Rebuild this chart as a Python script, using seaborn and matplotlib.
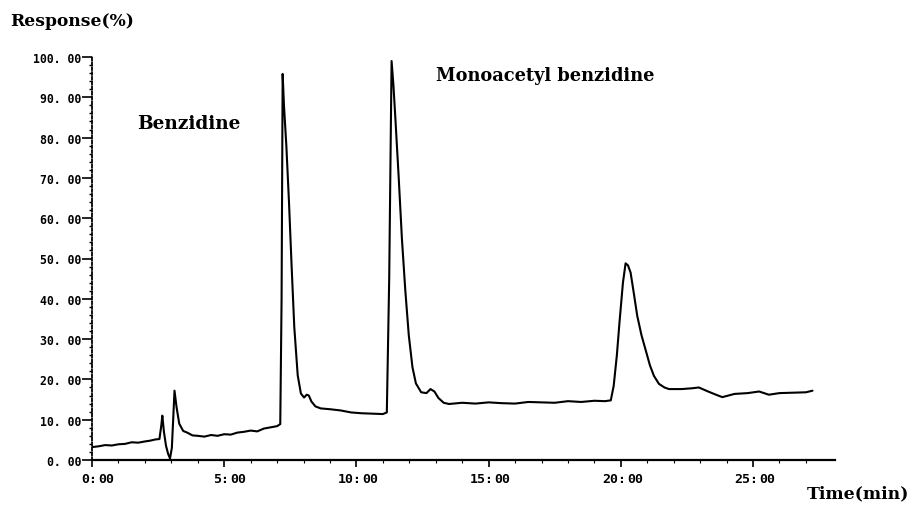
import matplotlib
matplotlib.use("Agg")
import matplotlib.pyplot as plt
import seaborn as sns
import pandas as pd
from matplotlib.transforms import offset_copy

# ---- data ----
time_min = [0.00, 0.25, 0.50, 0.75, 1.00, 1.25, 1.50, 1.75, 2.00, 2.20, 2.40, 2.55,
            2.62, 2.66, 2.72, 2.80, 2.88, 2.95, 3.02, 3.07, 3.12, 3.20, 3.30, 3.45,
            3.60, 3.80, 4.00, 4.25, 4.50, 4.75, 5.00, 5.25, 5.50, 5.75, 6.00, 6.25,
            6.50, 6.75, 7.00, 7.12, 7.17, 7.21, 7.26, 7.35, 7.45, 7.55, 7.65, 7.78,
            7.90, 8.02, 8.12, 8.20, 8.30, 8.45, 8.65, 9.00, 9.40, 9.80, 10.20, 10.60,
            11.00, 11.15, 11.24, 11.33, 11.40, 11.48, 11.60, 11.72, 11.85, 11.98, 12.12,
            12.25, 12.45, 12.65, 12.80, 12.95, 13.10, 13.30, 13.50, 14.00, 14.50, 15.00,
            15.50, 16.00, 16.50, 17.00, 17.50, 18.00, 18.50, 19.00, 19.40, 19.62, 19.73,
            19.85, 19.95, 20.08, 20.18, 20.27, 20.37, 20.50, 20.62, 20.78, 20.93, 21.10,
            21.25, 21.44, 21.65, 21.82, 22.30, 22.70, 22.95, 23.30, 23.60, 23.84, 24.30,
            24.80, 25.23, 25.60, 26.00, 26.50, 27.00, 27.25]
response_pct = [3.2, 3.4, 3.7, 3.6, 3.9, 4.0, 4.4, 4.3, 4.6, 4.8, 5.1, 5.2,
                8.5, 11.0, 7.0, 3.5, 1.5, 0.4, 3.0, 10.0, 17.2, 13.0, 9.0, 7.2,
                6.8, 6.1, 6.0, 5.8, 6.2, 6.0, 6.4, 6.3, 6.8, 7.0, 7.3, 7.1,
                7.8, 8.1, 8.4, 8.9, 40.0, 95.8, 88.0, 78.0, 64.0, 48.0, 33.0, 21.0,
                16.5, 15.5, 16.2, 16.0, 14.5, 13.3, 12.8, 12.6, 12.3, 11.8, 11.6, 11.5,
                11.4, 11.8, 45.0, 99.0, 93.0, 84.0, 70.0, 55.0, 42.0, 31.0, 23.0,
                19.0, 16.8, 16.6, 17.6, 17.0, 15.4, 14.2, 13.9, 14.2, 14.0, 14.3,
                14.1, 14.0, 14.4, 14.3, 14.2, 14.6, 14.4, 14.7, 14.6, 14.8, 18.4,
                26.0, 34.2, 44.0, 48.8, 48.3, 46.5, 41.0, 35.8, 31.0, 27.5, 23.5,
                20.9, 18.9, 18.0, 17.6, 17.6, 17.8, 18.0, 17.0, 16.2, 15.6, 16.4,
                16.6, 17.0, 16.2, 16.6, 16.7, 16.8, 17.2]

y_ticks = [0, 10, 20, 30, 40, 50, 60, 70, 80, 90, 100]
y_tick_labels = ["0. 00", "10. 00", "20. 00", "30. 00", "40. 00", "50. 00",
                 "60. 00", "70. 00", "80. 00", "90. 00", "100. 00"]
x_ticks = [0, 5, 10, 15, 20, 25]
x_tick_minutes = ["0", "5", "10", "15", "20", "25"]
peak_names = ["Benzidine", "Monoacetyl benzidine"]

df = pd.DataFrame({"time": time_min, "response": response_pct})

sns.set_style("white")
plt.rcParams["font.family"] = ["DejaVu Serif"]
plt.rcParams["text.color"] = "black"
plt.rcParams["xtick.color"] = "black"
plt.rcParams["ytick.color"] = "black"
plt.rcParams["axes.labelcolor"] = "black"

fig = plt.figure(figsize=(9.14, 5.06), dpi=100)
ax = fig.add_axes([92 / 914, 45 / 506, 743 / 914, 403 / 506])

sns.lineplot(data=df, x="time", y="response", color="black", linewidth=1.5,
             ax=ax, estimator=None, sort=False)

ax.set_xlim(0, 28.1)
ax.set_ylim(0, 100)
ax.set_xlabel("")
ax.set_ylabel("")

for s in ["top", "right"]:
    ax.spines[s].set_visible(False)
ax.spines["left"].set_linestyle((0, (1.5, 1.2)))
ax.spines["left"].set_linewidth(1.3)
ax.spines["left"].set_color("black")
ax.spines["bottom"].set_linewidth(1.6)
ax.spines["bottom"].set_color("black")

mono = dict(family="DejaVu Sans Mono", weight="bold", size=8.3, color="black")
mono_x = dict(family="DejaVu Sans Mono", weight="bold", size=9.5, color="black")
ax.set_yticks(y_ticks)
ax.set_yticklabels(y_tick_labels, fontdict=mono)
ax.set_yticks([v + 2 * k for v in y_ticks[:-1] for k in range(1, 5)], minor=True)
ax.tick_params(axis="y", which="major", direction="out", length=7, width=1.2,
               color="black", pad=1, left=True)
ax.tick_params(axis="y", which="minor", direction="out", length=2, width=1.0,
               color="black", left=True)

ax.set_xticks(x_ticks)
ax.set_xticklabels([""] * len(x_ticks))
ax.set_xticks([m for m in range(0, 28)], minor=True)
ax.tick_params(axis="x", which="major", direction="out", length=5, width=1.2,
               color="black", bottom=True)
ax.tick_params(axis="x", which="minor", direction="out", length=2, width=0.8,
               color="black", bottom=True)

xtr = ax.get_xaxis_transform()
for t, m in zip(x_ticks, x_tick_minutes):
    ax.text(t, 0, m, transform=offset_copy(xtr, fig=fig, x=-3, y=-19, units="dots"),
            ha="right", va="center", **mono_x)
    ax.text(t, 0, ":", transform=offset_copy(xtr, fig=fig, x=0, y=-19, units="dots"),
            ha="center", va="center", **mono_x)
    ax.text(t, 0, "00", transform=offset_copy(xtr, fig=fig, x=6, y=-19, units="dots"),
            ha="left", va="center", **mono_x)

serif = dict(family="DejaVu Serif", weight="bold", color="black")
ax.text(1.7, 83.6, peak_names[0], ha="left", va="center", size=13.3, **serif)
ax.text(13.0, 95.5, peak_names[1], ha="left", va="center", size=12.8, **serif)
fig.text(10 / 914, 1 - 22 / 506, "Response(%)", ha="left", va="center", size=12.3, **serif)
fig.text(807 / 914, 1 - 494 / 506, "Time(min)", ha="left", va="center", size=12.4, **serif)

fig.savefig("out.png", dpi=100)
